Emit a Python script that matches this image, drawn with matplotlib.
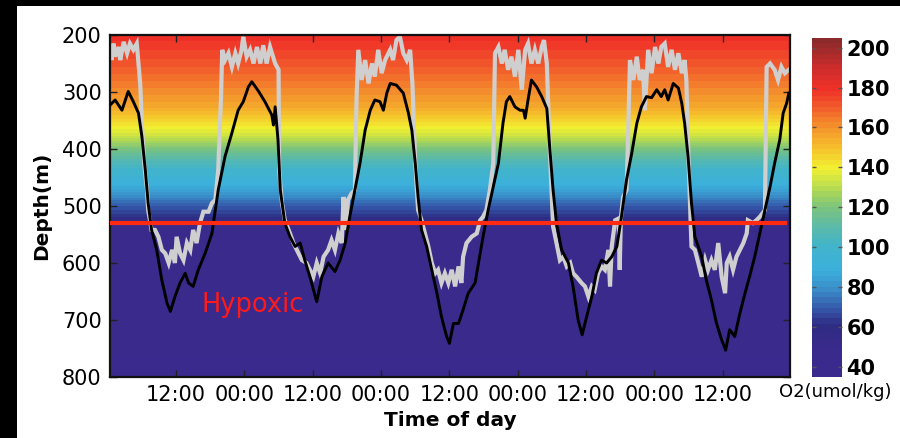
import numpy as np
import matplotlib
matplotlib.use("Agg")
import matplotlib.pyplot as plt
from matplotlib.colors import LinearSegmentedColormap, Normalize
from matplotlib.patches import Rectangle

# ---------------- data ----------------
# black line: time (hours from start), depth (m)
black_t = [0.4, 1.3, 2.5, 3.6, 4.5, 5.4, 6.0, 6.6, 7.1, 7.7, 8.6, 9.5, 10.4, 11.0, 11.8, 12.7,
           13.6, 14.2, 15.0, 15.9, 17.1, 18.3, 19.4, 20.6, 21.8, 22.9, 23.8, 24.7, 25.3, 26.5,
           27.6, 28.8, 29.1, 29.4, 29.9, 30.3, 31.1, 32.0, 32.9, 33.8, 34.6, 35.5, 36.7, 37.6,
           38.7, 39.9, 40.8, 41.7, 42.5, 43.4, 44.3, 45.2, 46.1, 46.9, 47.8, 48.4, 49.0, 49.6,
           50.7, 51.9, 52.8, 53.4, 54.0, 54.5, 55.1, 56.0, 56.9, 57.8, 58.6, 59.5, 60.0, 60.7,
           61.6, 62.4, 63.3, 64.5, 65.1, 65.9, 66.8, 67.7, 68.6, 69.4, 70.0, 70.6, 71.5, 72.4,
           73.0, 73.3, 73.8, 74.4, 75.3, 76.2, 77.1, 77.6, 78.2, 78.8, 79.7, 80.9, 81.7, 82.6,
           83.3, 84.1, 85.0, 85.8, 86.7, 87.6, 88.5, 89.4, 90.2, 91.1, 92.0, 92.9, 93.7, 94.6,
           95.5, 96.4, 97.2, 97.8, 98.4, 99.3, 100.2, 100.8, 101.3, 101.9, 102.5, 103.1, 104.3,
           105.1, 106.0, 106.9, 107.8, 108.5, 109.2, 110.1, 111.0, 111.9, 112.7, 113.6, 114.5,
           115.4, 116.3, 117.1, 118.0, 118.6, 119.2, 119.6]
black_d = [323, 314, 332, 299, 317, 337, 378, 437, 495, 542, 577, 630, 670, 685, 659, 635,
           618, 635, 641, 612, 583, 548, 472, 413, 372, 332, 317, 291, 282, 299,
           317, 340, 358, 326, 384, 472, 530, 554, 571, 565, 595, 624, 668, 624,
           600, 615, 595, 565, 519, 472, 425, 367, 332, 314, 317, 332, 302, 285,
           288, 302, 337, 367, 425, 484, 542, 571, 612, 653, 694, 729, 741, 706,
           706, 682, 653, 635, 600, 554, 507, 466, 425, 355, 317, 308, 326, 332,
           332, 346, 314, 279, 291, 308, 329, 396, 472, 530, 577, 600, 641, 700,
           726, 694, 659, 618, 595, 600, 589, 571, 519, 454, 408, 355, 326, 308,
           310, 296, 308, 296, 314, 285, 293, 320, 355, 413, 495, 554, 589,
           630, 665, 706, 735, 753, 717, 729, 688, 653, 624, 589, 548,
           507, 466, 425, 384, 337, 320, 302]

# gray line: time (hours), depth (m)
gray_t = [0.4, 0.7, 1.0, 1.3, 1.9, 2.2, 2.8, 3.4, 3.9, 4.5, 5.1, 5.4, 5.7, 6.0, 6.4, 6.9, 7.1,
          7.7, 8.3, 8.9, 9.5, 10.1, 10.7, 11.3, 11.8, 12.1, 12.7, 13.3, 13.9, 14.5, 15.0, 15.6,
          16.2, 16.8, 17.7, 18.3, 18.9, 19.4, 19.9, 20.1, 20.6, 21.2, 21.8, 22.4, 22.9, 23.5,
          23.8, 24.4, 25.0, 25.6, 26.2, 26.8, 27.3, 27.9, 28.5, 29.4, 30.0, 30.1, 30.6, 31.1,
          32.0, 32.6, 33.2, 34.1, 34.9, 35.5, 36.1, 36.7, 37.3, 37.9, 38.7, 39.3, 39.9, 40.5,
          41.1, 41.4, 41.8, 42.2, 42.8, 43.4, 43.7, 44.0, 44.6, 45.2, 45.8, 46.4, 46.9, 47.5,
          48.1, 48.7, 49.6, 50.1, 50.7, 51.3, 51.9, 52.5, 53.1, 53.5, 54.0, 54.5, 55.1, 55.7,
          56.3, 56.9, 57.5, 58.0, 58.6, 59.2, 59.8, 60.4, 61.0, 61.6, 62.1, 62.4, 63.0, 63.9,
          64.8, 65.4, 65.9, 66.5, 67.1, 67.7, 68.0, 68.6, 69.2, 69.7, 70.3, 70.9, 71.5, 72.1,
          72.7, 73.3, 73.8, 74.4, 75.0, 75.6, 76.2, 76.6, 77.1, 77.6, 78.2, 78.8, 79.4, 80.0,
          80.6, 81.2, 81.7, 82.3, 83.2, 83.8, 84.4, 85.0, 85.5, 86.1, 86.7, 87.3, 87.9, 88.2,
          88.5, 89.1, 89.7, 89.9, 90.1, 90.5, 91.1, 91.4, 91.7, 92.3, 92.9, 93.4, 94.0, 94.3,
          94.9, 95.5, 96.1, 96.7, 97.2, 97.8, 98.4, 99.0, 99.6, 100.2, 100.8, 101.3, 101.6,
          102.0, 102.5, 103.1, 103.7, 104.3, 104.9, 105.4, 106.0, 106.6, 107.2, 107.8, 108.4,
          108.7, 109.2, 109.8, 110.4, 111.0, 111.6, 112.2, 112.4, 113.3, 113.9, 114.5, 115.4,
          115.7, 116.3, 117.1, 117.7, 118.3, 118.9, 119.6]
gray_d = [221, 244, 215, 238, 221, 244, 212, 232, 215, 226, 215, 250, 285, 355, 425, 472, 507,
          542, 542, 554, 577, 583, 600, 577, 600, 554, 583, 595, 565, 577, 542, 565,
          530, 510, 510, 495, 489, 437, 308, 226, 244, 232, 256, 232, 250, 226,
          203, 238, 226, 250, 221, 250, 218, 250, 221, 250, 261, 437, 495, 525,
          548, 565, 577, 595, 600, 612, 624, 600, 618, 589, 577, 560, 577, 548,
          565, 484, 542, 489, 478, 472, 308, 226, 279, 244, 285, 250, 273, 226,
          267, 244, 226, 244, 209, 203, 232, 244, 226, 285, 425, 507, 525, 548,
          571, 600, 618, 612, 635, 618, 635, 612, 641, 606, 635, 589, 565, 554,
          548, 525, 519, 507, 472, 425, 232, 221, 250, 226, 261, 238, 273, 226,
          296, 226, 215, 250, 226, 250, 221, 209, 250, 396, 536, 565, 595, 589,
          606, 600, 618, 624, 635, 641, 659, 641, 647, 618, 606, 612, 577, 641,
          571, 525, 522, 612, 522, 484, 472, 367, 244, 279, 238, 279, 261, 332,
          226, 267, 221, 250, 221, 215, 256, 226, 261, 232, 267, 244, 279,
          425, 571, 577, 600, 624, 595, 612, 595, 612, 565, 624, 653,
          600, 589, 612, 589, 577, 565, 548, 525, 530, 525, 519, 507,
          256, 250, 261, 279, 256, 267, 261]

# background oxygen profile (depth m -> O2 umol/kg)
profile_depth = [200, 250, 290, 326, 350, 372, 402, 425, 466, 495, 519, 528, 540, 800]
profile_o2 = [180, 172, 163, 155, 145, 136, 118, 105, 88, 72, 62, 52, 42, 40]

hypoxic_depth = 530
tick_hours = [12, 24, 36, 48, 60, 72, 84, 96, 108]
tick_labels = ["12:00", "00:00", "12:00", "00:00", "12:00", "00:00", "12:00", "00:00", "12:00"]
depth_ticks = [200, 300, 400, 500, 600, 700, 800]
cbar_ticks = [40, 60, 80, 100, 120, 140, 160, 180, 200]
time_range = (0.4, 119.8)
o2_range = (35, 205)

# ---------------- colormap ----------------
stops = [(35, "#3b2a8e"), (50, "#382a8a"), (60, "#2d2c82"), (68, "#3556a8"), (78, "#3a8cc8"),
         (88, "#3cb0dc"), (100, "#42b4cc"), (110, "#5cbaa8"), (120, "#7cc47c"),
         (130, "#b8dc50"), (140, "#f2f032"), (150, "#f6c02c"), (160, "#f4962c"),
         (170, "#f2602c"), (180, "#f03028"), (192, "#c82c2c"), (205, "#8a2a2a")]
lo, hi = o2_range
cmap = LinearSegmentedColormap.from_list(
    "o2", [((v - lo) / (hi - lo), c) for v, c in stops], N=64)
norm = Normalize(vmin=lo, vmax=hi)

# ---------------- figure ----------------
W, H = 900, 438
fig = plt.figure(figsize=(9.0, 4.38), dpi=100)
fig.patch.set_facecolor("white")

ax = fig.add_axes([110 / W, 1 - 377 / H, 680 / W, 342 / H])
dgrid = np.linspace(200, 800, 601)
o2grid = np.interp(dgrid, profile_depth, profile_o2)
img = np.tile(o2grid[:, None], (1, 2))
ax.imshow(img, cmap=cmap, norm=norm, aspect="auto", interpolation="nearest",
          extent=[time_range[0], time_range[1], 800, 200], zorder=0)

ax.plot(gray_t, gray_d, color="#cfcfcf", lw=3.0, zorder=2, solid_joinstyle="miter")
ax.plot(black_t, black_d, color="black", lw=2.1, zorder=3)
ax.axhline(hypoxic_depth, xmin=0.0, xmax=0.993, color="#ff2a12", lw=3.0, zorder=4)

ax.text(25.5, 674, "Hypoxic", color="#ff1a1a", fontsize=18.5, family="DejaVu Sans",
        fontweight="normal", ha="center", va="center", zorder=5)

ax.set_xlim(*time_range)
ax.set_ylim(800, 200)
ax.set_xticks(tick_hours)
ax.set_xticklabels(tick_labels)
ax.set_yticks(depth_ticks)
for s in ax.spines.values():
    s.set_linewidth(1.6)
    s.set_color("#111111")
ax.tick_params(direction="in", length=5, width=1.0, top=True, right=True,
               labelsize=15, pad=6, colors="#222222", labelcolor="black")
ax.set_xlabel("Time of day", fontsize=14.5, fontweight="bold", labelpad=4)
ax.set_ylabel("Depth(m)", fontsize=14.5, fontweight="bold", labelpad=8)

# colorbar
cax = fig.add_axes([811.7 / W, 1 - 376.7 / H, 30.6 / W, 339 / H])
sm = plt.cm.ScalarMappable(norm=norm, cmap=cmap)
cb = fig.colorbar(sm, cax=cax, ticks=cbar_ticks)
cb.outline.set_visible(False)
cax.tick_params(direction="in", length=3, width=1.0, left=True, right=True,
                colors="#555555", labelcolor="black", labelsize=15, pad=3)
for lab in cax.get_yticklabels():
    lab.set_fontweight("bold")
fig.text(835 / W, 1 - 392 / H, "O2(umol/kg)", fontsize=13, ha="center", va="center")

# black border strips
fig.add_artist(Rectangle((0, 0), 17 / W, 1, transform=fig.transFigure,
                         facecolor="black", edgecolor="none", zorder=10))
fig.add_artist(Rectangle((0, 1 - 6 / H), 1, 6 / H, transform=fig.transFigure,
                         facecolor="black", edgecolor="none", zorder=10))

fig.savefig("out.png", dpi=100)
